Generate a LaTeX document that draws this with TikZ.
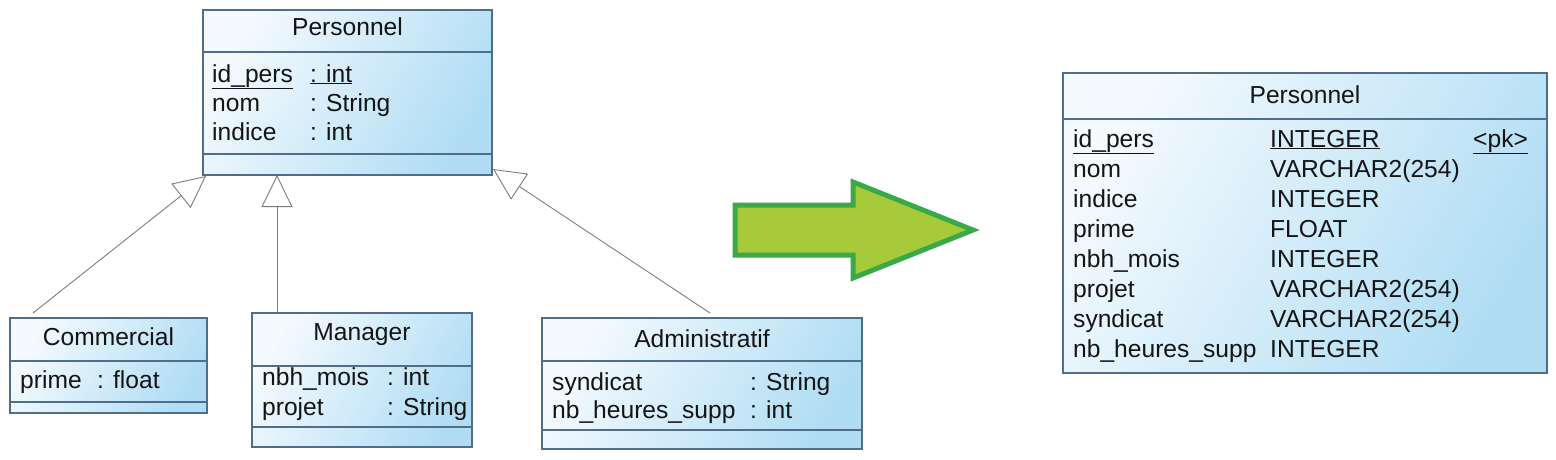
\documentclass[tikz,border=0pt]{standalone}
\usepackage{fontspec}
\setmainfont{Liberation Sans}
\usetikzlibrary{arrows.meta,calc}
\definecolor{boxblue}{RGB}{176,221,244}
\definecolor{boxlight}{RGB}{244,250,254}
\definecolor{boxedge}{RGB}{80,110,138}
\definecolor{txt}{RGB}{20,20,20}
\definecolor{arrfill}{RGB}{166,202,58}
\definecolor{arredge}{RGB}{58,170,72}
\definecolor{conn}{RGB}{125,125,125}
\begin{document}
\begin{tikzpicture}[x=1pt,y=-1pt,
  classbox/.style={draw=boxedge, line width=1.2pt, top color=boxlight, bottom color=boxblue, shading angle=60, inner sep=0, outer sep=0, anchor=north west},
  sep/.style={draw=boxedge, line width=1.2pt},
  lbl/.style={anchor=base west, inner sep=0, text=txt, font=\fontsize{24.6}{29}\selectfont},
  ttl/.style={anchor=base, inner sep=0, text=txt, font=\fontsize{24.6}{29}\selectfont},
  inh/.style={draw=conn, line width=0.9pt, -{Triangle[open,length=32pt,width=31pt,fill=white]}},
  bigarrow/.style={fill=arrfill, draw=arredge, line width=5pt, line join=miter}
]
\useasboundingbox (0,0) rectangle (1556,459);

% ---------- left Personnel ----------
\node[classbox, minimum width=289pt, minimum height=165pt] (pers) at (203,10) {};
\draw[sep] (203,52) -- (492,52);
\draw[sep] (203,154) -- (492,154);
\node[ttl] (persT) at (347.5,35) {Personnel};
\node[lbl] (p1) at (212,82) {\underline{id\_pers}};
\node[lbl] (p1t) at (310,82) {\underline{: int}};
\node[lbl] (p2) at (212,111) {nom};
\node[lbl] (p2t) at (310,111) {: String};
\node[lbl] (p3) at (212,140) {indice};
\node[lbl] (p3t) at (310,140) {: int};

% ---------- Commercial ----------
\node[classbox, minimum width=197pt, minimum height=95pt] (comm) at (10,318) {};
\draw[sep] (10,361) -- (207,361);
\draw[sep] (10,402) -- (207,402);
\node[ttl] (commT) at (108.5,345) {Commercial};
\node[lbl] (c1) at (20,388) {prime};
\node[lbl] (c1t) at (97,388) {: float};

% ---------- Manager ----------
\node[classbox, minimum width=220pt, minimum height=134pt] (mgr) at (252,313) {};
\draw[sep] (252,366) -- (472,366);
\draw[sep] (252,427) -- (472,427);
\node[ttl] (mgrT) at (362,340) {Manager};
\node[lbl] (m1) at (262,385) {nbh\_mois};
\node[lbl] (m1t) at (387,385) {: int};
\node[lbl] (m2) at (262,415) {projet};
\node[lbl] (m2t) at (387,415) {: String};

% ---------- Administratif ----------
\node[classbox, minimum width=320pt, minimum height=131pt] (adm) at (542,318) {};
\draw[sep] (542,361) -- (862,361);
\draw[sep] (542,430) -- (862,430);
\node[ttl] (admT) at (702,347) {Administratif};
\node[lbl] (a1) at (552,390) {syndicat};
\node[lbl] (a1t) at (750,390) {: String};
\node[lbl] (a2) at (552,418) {nb\_heures\_supp};
\node[lbl] (a2t) at (750,418) {: int};

% ---------- inheritance ----------
\draw[inh] ($(comm.north west)+(23,-5)$) -- ($(pers.south west)+(3,1)$);
\draw[inh] ($(mgr.north west)+(25,0)$) -- ($(pers.south west)+(74,0)$);
\draw[inh] ($(adm.north west)+(168,-5)$) -- ($(pers.south east)+(1,-6)$);

% ---------- green arrow ----------
\draw[bigarrow] (735,205) -- (853,205) -- (853,182) -- (973,230) -- (853,278) -- (853,255) -- (735,255) -- cycle;

% ---------- right table ----------
\node[classbox, minimum width=484pt, minimum height=300pt] (tbl) at (1063,73) {};
\draw[sep] (1063,119) -- (1547,119);
\node[ttl] (tblT) at (1305,103) {Personnel};
\node[lbl] (r1) at (1073,147) {\underline{id\_pers}};
\node[lbl] (r1t) at (1270,147) {\underline{INTEGER}};
\node[lbl] (r1k) at (1473,147) {\underline{\textless pk\textgreater}};
\node[lbl] (r2) at (1073,177) {nom};
\node[lbl] (r2t) at (1270,177) {VARCHAR2(254)};
\node[lbl] (r3) at (1073,207) {indice};
\node[lbl] (r3t) at (1270,207) {INTEGER};
\node[lbl] (r4) at (1073,237) {prime};
\node[lbl] (r4t) at (1270,237) {FLOAT};
\node[lbl] (r5) at (1073,267) {nbh\_mois};
\node[lbl] (r5t) at (1270,267) {INTEGER};
\node[lbl] (r6) at (1073,297) {projet};
\node[lbl] (r6t) at (1270,297) {VARCHAR2(254)};
\node[lbl] (r7) at (1073,327) {syndicat};
\node[lbl] (r7t) at (1270,327) {VARCHAR2(254)};
\node[lbl] (r8) at (1073,357) {nb\_heures\_supp};
\node[lbl] (r8t) at (1270,357) {INTEGER};
\end{tikzpicture}
\end{document}
